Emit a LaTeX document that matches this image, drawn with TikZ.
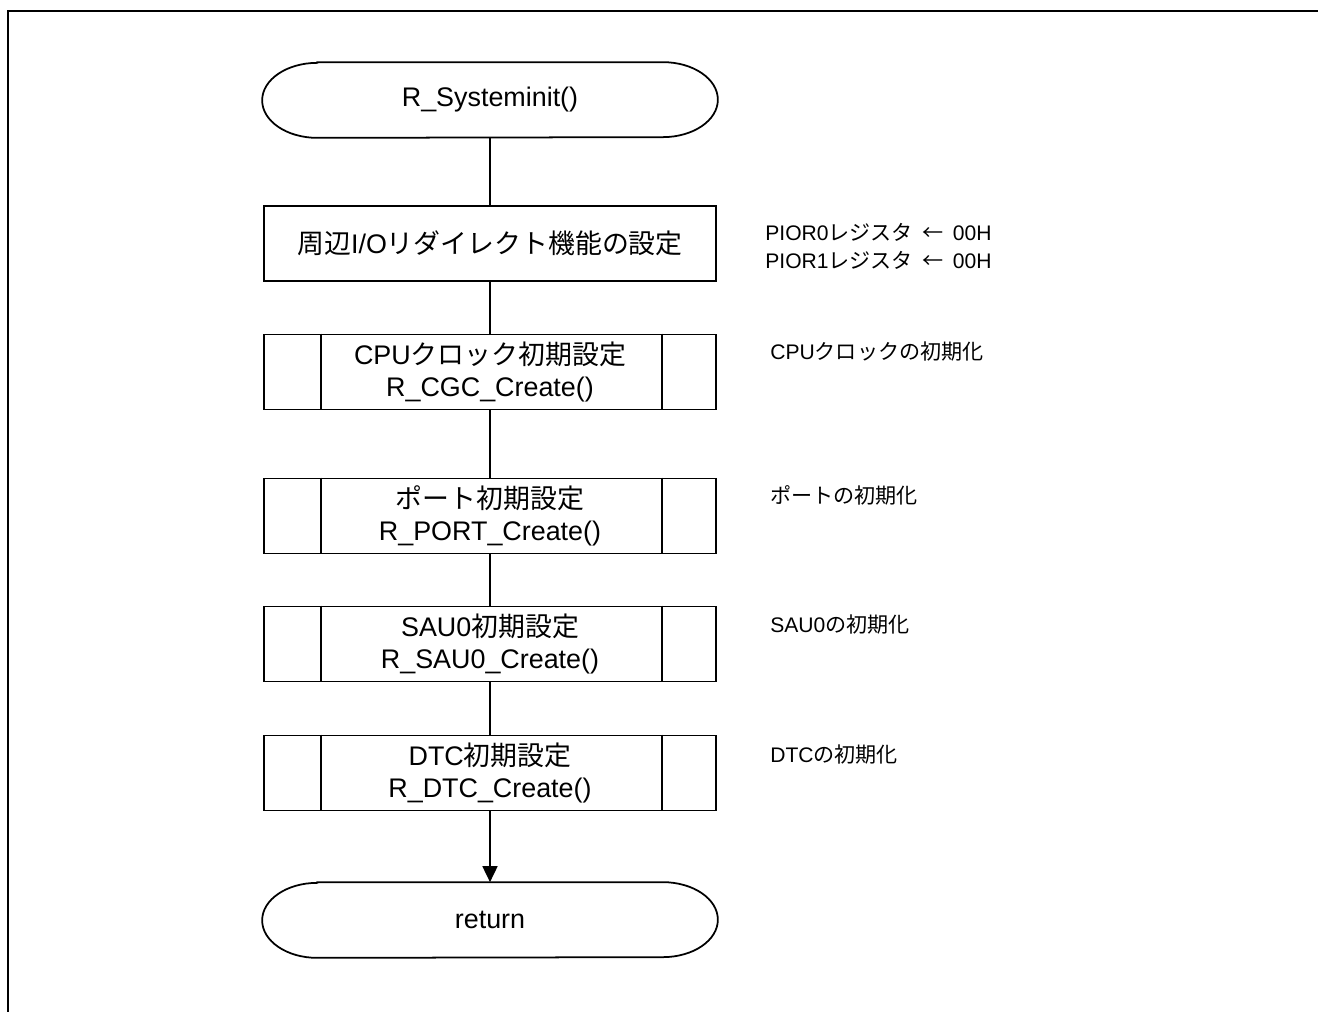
\documentclass[tikz,border=0pt]{standalone}
\usepackage{fontspec}
\setmainfont{Liberation Sans}
\newfontfamily\jpfont{Noto Sans CJK JP}
\usetikzlibrary{arrows.meta}

\tikzset{
    proc/.style = {draw, line width = 1pt, minimum width = 9.04cm, minimum height = 1.5cm,
        inner sep = 0pt, align = center, font = \fontsize{15.3}{18.2}\selectfont},
    term/.style = {minimum width = 9.1cm, minimum height = 1.5cm, inner sep = 0pt,
        font = \fontsize{15.3}{18.2}\selectfont},
    note/.style = {anchor = west, align = left, inner sep = 0pt,
        font = \fontsize{12}{15.9}\selectfont}
}

\begin{document}
\begin{tikzpicture}
    \useasboundingbox (0,0) rectangle (26.36,-20.24);
    \draw[line width = 1.7pt] (0.16,-20.5) -- (0.16,-0.22) -- (26.6,-0.22);

    % flow
    \node[term] (start) at (9.8,-2.0) {R\_Systeminit()};
    \node[proc] (pior) at (9.8,-4.87) {{\jpfont 周辺}I/O{\jpfont リダイレクト機能の設定}};
    \node[proc] (cgc) at (9.8,-7.44) {CPU{\jpfont クロック初期設定}\\R\_CGC\_Create()};
    \node[proc] (port) at (9.8,-10.32) {{\jpfont ポート初期設定}\\R\_PORT\_Create()};
    \node[proc] (sau) at (9.8,-12.88) {SAU0{\jpfont 初期設定}\\R\_SAU0\_Create()};
    \node[proc] (dtc) at (9.8,-15.46) {DTC{\jpfont 初期設定}\\R\_DTC\_Create()};
    \node[term] (ret) at (9.8,-18.4) {return};

    \foreach \n in {start, ret} {
        \draw[line width = 1pt] ([xshift = 1.1cm]\n.north west) -- ([xshift = -1.1cm]\n.north east)
            arc[start angle = 90, end angle = -90, x radius = 1.1cm, y radius = 0.75cm]
            -- ([xshift = 1.1cm]\n.south west)
            arc[start angle = 270, end angle = 90, x radius = 1.1cm, y radius = 0.75cm] -- cycle;
    }
    \foreach \n in {cgc, port, sau, dtc} {
        \draw[line width = 1pt] ([xshift = 1.15cm]\n.north west) -- ([xshift = 1.15cm]\n.south west);
        \draw[line width = 1pt] ([xshift = -1.1cm]\n.north east) -- ([xshift = -1.1cm]\n.south east);
    }

    \draw[line width = 1pt] (start.south) -- (pior.north);
    \draw[line width = 1pt] (pior) -- (cgc);
    \draw[line width = 1pt] (cgc) -- (port);
    \draw[line width = 1pt] (port) -- (sau);
    \draw[line width = 1pt] (sau) -- (dtc);
    \draw[line width = 1pt, -{Triangle[length = 0.32cm, width = 0.3cm]}] (dtc.south) -- (ret.north);

    % comments
    \node[note] (n1) at (15.3,-4.92) {PIOR0{\jpfont レジスタ\ \ ←\ \ }00H\\PIOR1{\jpfont レジスタ\ \ ←\ \ }00H};
    \node[note] (n2) at (15.4,-7.04) {CPU{\jpfont クロックの初期化}};
    \node[note] (n3) at (15.4,-9.9) {\jpfont ポートの初期化};
    \node[note] (n4) at (15.4,-12.5) {SAU0{\jpfont の初期化}};
    \node[note] (n5) at (15.4,-15.1) {DTC{\jpfont の初期化}};
\end{tikzpicture}
\end{document}
